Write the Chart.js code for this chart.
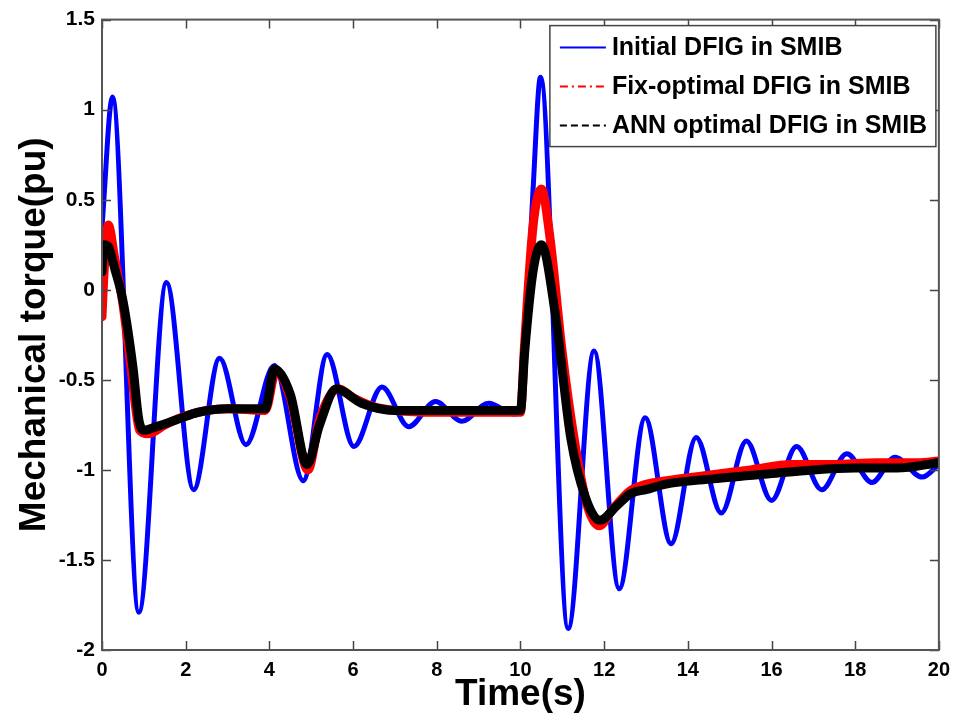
<!DOCTYPE html>
<html>
<head>
<meta charset="utf-8">
<script src="https://cdn.jsdelivr.net/npm/chart.js@4.4.0/dist/chart.umd.min.js"></script>
<style>
  body { margin: 0; background: #fff; }
  #torque { display: block; }
</style>
</head>
<body>
<canvas id="torque" width="958" height="721"></canvas>
<script>
// values (time in s, torque in pu)
const tInitial = [0, 0.25, 0.88, 1.54, 2.19, 2.81, 3.44, 4.12, 4.81, 5.38, 6.02, 6.69, 7.33, 7.97, 8.6, 9.24, 9.85, 10.0, 10.1, 10.3, 10.48, 11.14, 11.76, 12.36, 12.98, 13.6, 14.2, 14.8, 15.4, 16.0, 16.6, 17.2, 17.8, 18.4, 18.95, 19.6, 20];
const yInitial = [0.35, 1.07, -1.79, 0.04, -1.11, -0.38, -0.86, -0.42, -1.06, -0.36, -0.87, -0.54, -0.76, -0.62, -0.73, -0.63, -0.69, -0.67, -0.35, 0.55, 1.18, -1.88, -0.34, -1.66, -0.71, -1.41, -0.82, -1.24, -0.84, -1.17, -0.87, -1.11, -0.91, -1.07, -0.93, -1.04, -0.97];

const tFix = [0, 0.05, 0.15, 0.3, 0.5, 0.7, 0.9, 1.1, 1.5, 2.0, 2.5, 3.0, 3.9, 4.16, 4.5, 4.92, 5.2, 5.65, 6.0, 6.5, 7.0, 8.0, 9.0, 10.0, 10.1, 10.3, 10.5, 10.7, 11.0, 11.3, 11.6, 11.88, 12.2, 12.6, 13.0, 13.5, 14.5, 15.5, 16.5, 17.5, 18.5, 19.5, 20];
const yFix = [-0.15, 0.1, 0.36, 0.18, -0.08, -0.45, -0.78, -0.8, -0.75, -0.7, -0.67, -0.66, -0.67, -0.45, -0.6, -1.0, -0.72, -0.55, -0.6, -0.65, -0.67, -0.68, -0.68, -0.68, -0.3, 0.35, 0.56, 0.3, -0.35, -0.85, -1.2, -1.31, -1.22, -1.12, -1.08, -1.06, -1.03, -1.0, -0.97, -0.97, -0.96, -0.96, -0.95];

const tAnn = [0, 0.05, 0.15, 0.3, 0.5, 0.74, 0.88, 1.0, 1.3, 1.8, 2.3, 3.0, 3.9, 4.12, 4.5, 4.9, 5.2, 5.6, 6.2, 7.0, 8.0, 9.0, 10.0, 10.1, 10.3, 10.5, 10.83, 11.2, 11.55, 11.9, 12.3, 12.65, 13.0, 13.45, 14.6, 16.0, 17.0, 18.0, 19.0, 20];
const yAnn = [0.1, 0.25, 0.24, 0.12, -0.06, -0.43, -0.72, -0.78, -0.76, -0.72, -0.68, -0.66, -0.66, -0.44, -0.58, -0.97, -0.75, -0.55, -0.63, -0.67, -0.67, -0.67, -0.67, -0.35, 0.1, 0.25, -0.13, -0.82, -1.15, -1.28, -1.2, -1.13, -1.11, -1.08, -1.05, -1.02, -1.0, -0.99, -0.99, -0.96];

const seriesNames = ['Initial DFIG in SMIB', 'Fix-optimal DFIG in SMIB', 'ANN optimal DFIG in SMIB'];
const seriesColors = ['#0000ff', '#ff0000', '#000000'];
const legendDash = [[], [8, 4, 2, 4], [7, 4]];

function toPoints(ts, ys) {
    return ts.map((t, i) => ({ x: t, y: ys[i] }));
}

const FONT = "'Liberation Sans', Arial, sans-serif";

// matlab-ish box with inward ticks on all sides
const boxTicks = {
    id: 'boxTicks',
    afterDatasetsDraw(chart) {
        const { ctx, chartArea: a, scales } = chart;
        const len = 9;
        ctx.save();
        ctx.strokeStyle = '#444';
        ctx.lineWidth = 1.5;
        ctx.beginPath();
        scales.x.ticks.forEach(tk => {
            const px = Math.round(scales.x.getPixelForValue(tk.value)) + 0.5;
            ctx.moveTo(px, a.bottom); ctx.lineTo(px, a.bottom - len);
            ctx.moveTo(px, a.top); ctx.lineTo(px, a.top + len);
        });
        scales.y.ticks.forEach(tk => {
            const py = Math.round(scales.y.getPixelForValue(tk.value)) + 0.5;
            ctx.moveTo(a.left, py); ctx.lineTo(a.left + len, py);
            ctx.moveTo(a.right, py); ctx.lineTo(a.right - len, py);
        });
        ctx.stroke();
        ctx.lineWidth = 2;
        ctx.strokeStyle = '#555';
        ctx.strokeRect(a.left, a.top, a.right - a.left, a.bottom - a.top);
        ctx.restore();
    }
};

// legend box drawn inside the plot, top right
const boxLegend = {
    id: 'boxLegend',
    afterDraw(chart) {
        const { ctx, chartArea: a } = chart;
        const right = a.right - 3, top = a.top + 6;
        const w = 386, h = 121;
        const left = right - w;
        ctx.save();
        ctx.fillStyle = '#fff';
        ctx.fillRect(left, top, w, h);
        ctx.strokeStyle = '#444';
        ctx.lineWidth = 1.5;
        ctx.strokeRect(left, top, w, h);
        ctx.font = 'bold 25px ' + FONT;
        ctx.textBaseline = 'middle';
        ctx.fillStyle = '#000';
        seriesNames.forEach((name, i) => {
            const cy = top + 22 + i * 39;
            ctx.beginPath();
            ctx.setLineDash(legendDash[i]);
            ctx.strokeStyle = seriesColors[i];
            ctx.lineWidth = 2;
            ctx.moveTo(left + 10, cy);
            ctx.lineTo(left + 56, cy);
            ctx.stroke();
            ctx.setLineDash([]);
            ctx.fillText(name, left + 62, cy + 1);
        });
        ctx.restore();
    }
};

const ctx = document.getElementById('torque');
new Chart(ctx, {
    type: 'line',
    data: {
        datasets: [
            {
                label: seriesNames[2],
                data: toPoints(tAnn, yAnn),
                borderColor: seriesColors[2],
                borderWidth: 9,
                order: 1
            },
            {
                label: seriesNames[1],
                data: toPoints(tFix, yFix),
                borderColor: seriesColors[1],
                borderWidth: 9,
                order: 2
            },
            {
                label: seriesNames[0],
                data: toPoints(tInitial, yInitial),
                borderColor: seriesColors[0],
                borderWidth: 5,
                order: 3
            }
        ]
    },
    options: {
        responsive: false,
        animation: false,
        layout: { padding: { left: 0, right: 16, top: 17, bottom: 0 } },
        elements: {
            point: { radius: 0 },
            line: { cubicInterpolationMode: 'monotone', fill: false, borderJoinStyle: 'round', borderCapStyle: 'round' }
        },
        plugins: {
            legend: { display: false },
            tooltip: { enabled: false }
        },
        scales: {
            x: {
                type: 'linear',
                min: 0,
                max: 20,
                grid: { display: false, drawTicks: false },
                border: { display: false },
                ticks: { stepSize: 2, color: '#000', padding: 8, font: { family: FONT, size: 20, weight: 'bold' } },
                title: {
                    display: true,
                    text: 'Time(s)',
                    color: '#000',
                    font: { family: FONT, size: 37, weight: 'bold' },
                    padding: { top: 0, bottom: 4 }
                },
                afterFit: s => { s.height = 71; }
            },
            y: {
                min: -2,
                max: 1.5,
                grid: { display: false, drawTicks: false },
                border: { display: false },
                ticks: {
                    stepSize: 0.5, color: '#000', padding: 7,
                    font: { family: FONT, size: 21, weight: 'bold' },
                    callback: v => String(v)
                },
                title: {
                    display: true,
                    text: 'Mechanical torque(pu)',
                    color: '#000',
                    font: { family: FONT, size: 37, weight: 'bold' },
                    padding: { top: 13, bottom: 0 }
                },
                afterFit: s => { s.width = 102; }
            }
        }
    },
    plugins: [boxTicks, boxLegend]
});
</script>
</body>
</html>
